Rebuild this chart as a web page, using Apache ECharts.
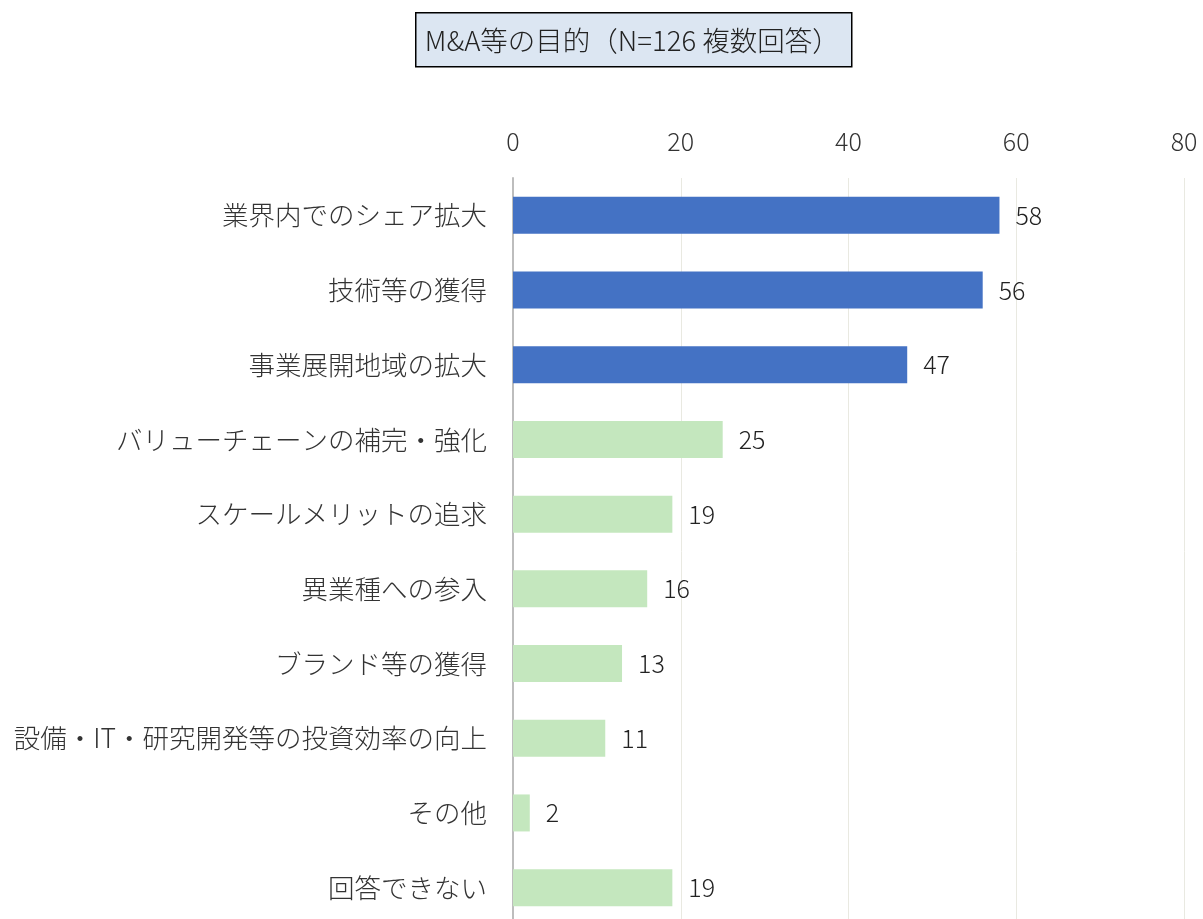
<!DOCTYPE html>
<html><head><meta charset="utf-8">
<script src="https://cdn.jsdelivr.net/npm/echarts@6/dist/echarts.min.js"></script>
<style>html,body{margin:0;padding:0;background:#fff;overflow:hidden}#c{width:1203px;height:930px}</style>
</head><body><div id="c"></div>
<script>
const categories = ["業界内でのシェア拡大","技術等の獲得","事業展開地域の拡大","バリューチェーンの補完・強化","スケールメリットの追求","異業種への参入","ブランド等の獲得","設備・IT・研究開発等の投資効率の向上","その他","回答できない"];
const values = [58,56,47,25,19,16,13,11,2,19];
const highlighted = [true,true,true,false,false,false,false,false,false,false];
const titleText = "M&A等の目的（N=126 複数回答）";
const FONT = '"Noto Sans CJK JP","Noto Sans",sans-serif';
const chart = echarts.init(document.getElementById('c'));
chart.setOption({
  animation:false,
  graphic:[{type:'group',left:415,top:12,children:[
    {type:'rect',shape:{x:0,y:0,width:436,height:54},style:{fill:'#DCE6F2',stroke:'#000',lineWidth:1.5}},
    {type:'text',x:9,y:28,style:{text:titleText,font:'300 27.5px '+FONT,fill:'#222',textVerticalAlign:'middle'}}
  ]}],
  grid:{left:513,right:19,top:178,bottom:5,containLabel:false},
  xAxis:{type:'value',position:'top',min:0,max:80,interval:20,
    axisLine:{show:false},axisTick:{show:false},
    axisLabel:{fontSize:25,fontWeight:300,color:'#333',fontFamily:FONT,margin:24},
    splitLine:{lineStyle:{color:'#E9E9E1',width:1}}},
  yAxis:{type:'category',inverse:true,data:categories,
    axisLine:{lineStyle:{color:'#BDBDBD',width:2}},axisTick:{show:false},
    axisLabel:{fontSize:26.5,fontWeight:300,color:'#333',fontFamily:FONT,margin:26}},
  series:[{type:'bar',barWidth:37,
    data:values.map((v,i)=>({value:v,itemStyle:{color:highlighted[i]?'#4472C4':'#C4E7BE'}})),
    label:{show:true,position:'right',distance:16,fontSize:25,fontWeight:300,color:'#222',fontFamily:FONT}}]
});
</script></body></html>
